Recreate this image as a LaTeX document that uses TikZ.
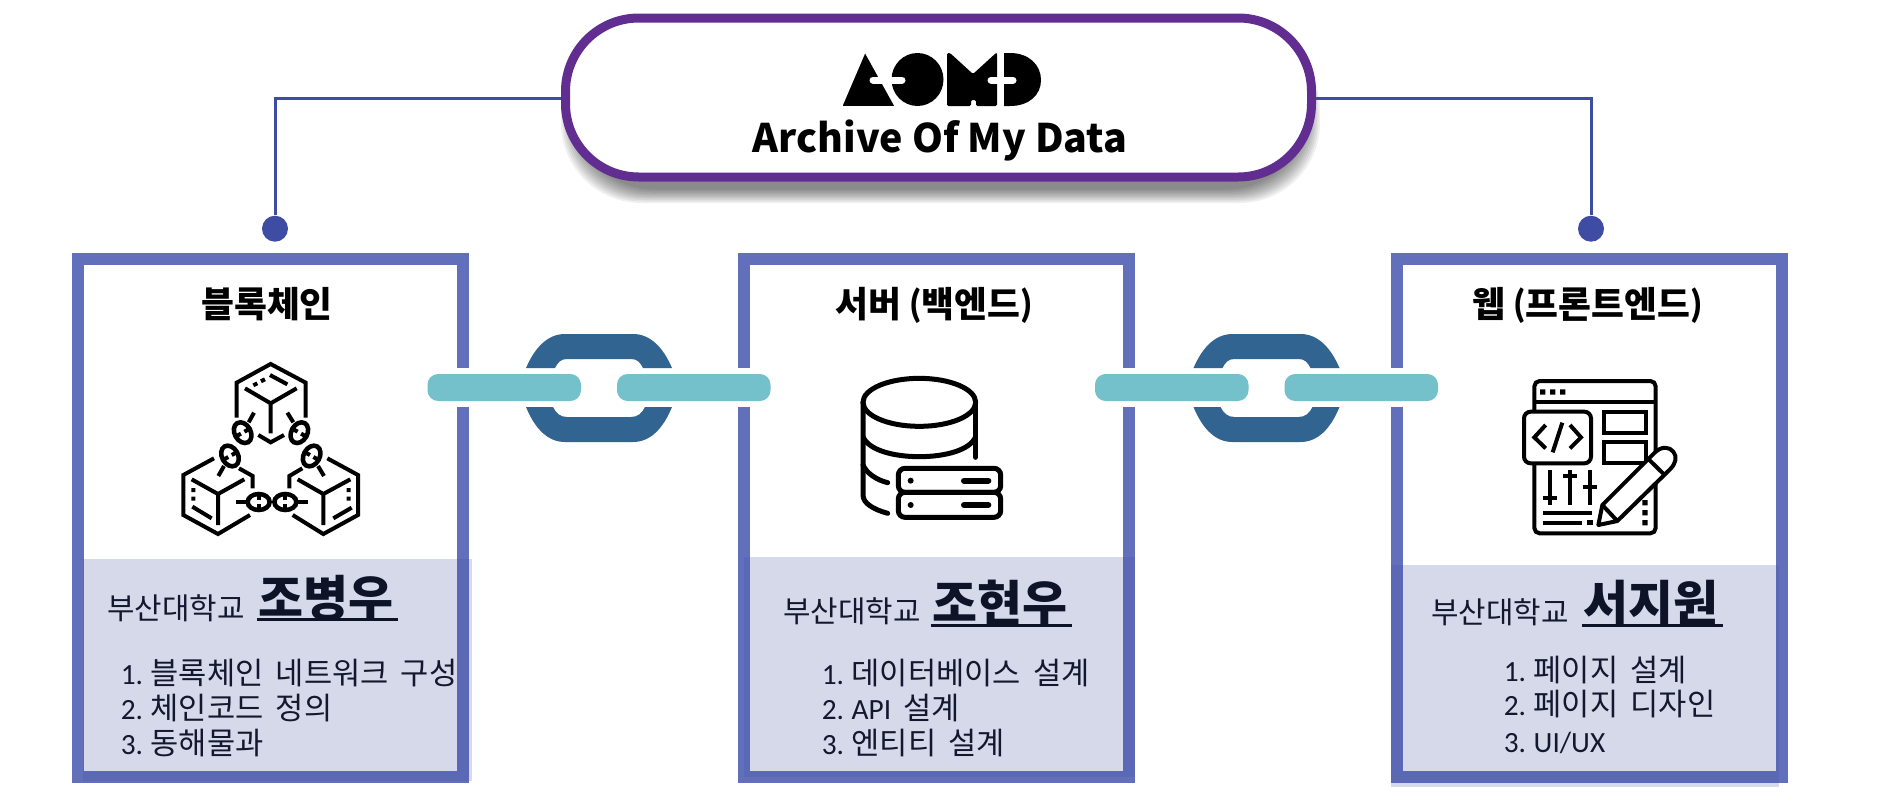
\documentclass[tikz,border=0pt]{standalone}
\usepackage{fontspec}
\setmainfont{Noto Sans CJK KR}
\newfontfamily\latinfont{Carlito}
\newcommand{\listlat}[1]{{\latinfont\fontsize{22}{27}\selectfont #1}}
\newcommand{\headlat}[1]{{\latinfont\fontsize{30}{30}\selectfont #1}}
\newcommand{\listitem}[2]{\fontsize{23}{27}\selectfont\spaceskip=.4em\relax\listlat{#1}\hspace{.25em}#2}
\tikzset{
  cardbox/.style={draw={rgb, 255:red, 98; green, 112; blue, 187}, line width=9pt, minimum width=288.75pt, minimum height=388.5pt, inner sep=0pt},
  cardpanel/.style={fill={rgb, 255:red, 67; green, 80; blue, 161}, fill opacity=0.22},
  titlepill/.style={draw={rgb, 255:red, 97; green, 45; blue, 145}, fill=white, line width=6.75pt, rounded corners=55pt, minimum width=559.5pt, minimum height=119.25pt, inner sep=0pt},
  hookline/.style={draw={rgb, 255:red, 63; green, 76; blue, 163}, line width=2.25pt},
  hookdot/.style={circle, fill={rgb, 255:red, 63; green, 76; blue, 163}, minimum size=19.5pt, inner sep=0pt},
  ringfill/.style={fill={rgb, 255:red, 49; green, 100; blue, 145}},
  barfill/.style={fill={rgb, 255:red, 116; green, 192; blue, 203}, rounded corners=8pt},
  headtext/.style={inner sep=0.75pt, anchor=base, font=\fontsize{26.8}{30}\selectfont\bfseries},
  schooltext/.style={inner sep=0.75pt, anchor=base west, text={rgb, 255:red, 20; green, 24; blue, 46}, font=\fontsize{22.4}{26}\selectfont},
  nametext/.style={inner sep=0.75pt, anchor=base west, text={rgb, 255:red, 14; green, 19; blue, 40}, font=\fontsize{36.7}{40}\selectfont\bfseries},
  nameline/.style={draw={rgb, 255:red, 14; green, 19; blue, 40}, line width=2.25pt},
  listtext/.style={inner sep=0.75pt, anchor=base west, text={rgb, 255:red, 20; green, 24; blue, 46}},
  logotext/.style={inner sep=0.75pt, anchor=base, font=\fontsize{29.5}{34}\selectfont\bfseries},
  iconline/.style={draw=black, line width=3pt},
  chainlink/.pic={
    \draw[iconline, line width=3.4pt] (0,0) ellipse [x radius=33,y radius=24];
    \draw[iconline] (0,-24) -- (0,-6) (0,6) -- (0,24);
  },
}
\begin{document}
\begin{tikzpicture}[x=0.75pt,y=0.75pt,yscale=-1,xscale=1]
\useasboundingbox (0,0) rectangle (1882,804);

%Cards
\node[cardbox] (blockcard) at (270.5,518) {};
\node[cardbox] (servercard) at (936.5,518) {};
\node[cardbox] (webcard) at (1589.5,518) {};
\fill[cardpanel] (83,559) rectangle (472,781);
\fill[cardpanel] (744,557) rectangle (1135,777);
\fill[cardpanel] (1391,565) rectangle (1779,787);

%Shadow of the title
\foreach \g in {0,...,9}
  \fill[black, fill opacity=0.06, rounded corners=60pt] (561+1.5*\g,30+\g) rectangle (1320-1.5*\g,203-1.5*\g);

%Title
\node[titlepill] (titlebox) at (938.5,97.5) {};
\node[hookdot] (leftdot) at (275,228.7) {};
\node[hookdot] (rightdot) at (1591,228.7) {};
\draw[hookline] (titlebox.west |- 0,98.3) -| (leftdot);
\draw[hookline] (titlebox.east |- 0,98.3) -| (rightdot);

%Links
\foreach \lx in {0,667.5} {
  \begin{scope}[shift={(\lx,0)}]
    \fill[ringfill] (526,368) .. controls (535,347) and (548,334) .. (565,334) -- (633,334) .. controls (650,334) and (663,347) .. (672,368) -- (643,368) .. controls (640,362) and (637,359) .. (631,359) -- (567,359) .. controls (561,359) and (558,362) .. (555,368) -- cycle;
    \fill[ringfill] (526,407) .. controls (535,429) and (548,442) .. (565,442) -- (633,442) .. controls (650,442) and (663,429) .. (672,407) -- (645,407) .. controls (642,413) and (638,417) .. (631,417) -- (567,417) .. controls (560,417) and (556,413) .. (553,407) -- cycle;
    \fill[white] (427,368) rectangle (500,407);
    \fill[white] (698,368) rectangle (770.5,407);
    \fill[barfill] (427.5,374) rectangle (581,401);
    \fill[barfill] (617,374) rectangle (770.5,401);
  \end{scope}
}

%Logo
\fill[black] (917.5,79.5) ellipse [x radius=26,y radius=26.5];
\draw[white, line width=1.5pt, fill=black, rounded corners=1.5pt] (865,51) -- (841,107) -- (896,107) -- cycle;
\fill[black, rounded corners=1pt] (947,53) -- (950,53) -- (973,74) -- (996,53) -- (997,53) -- (997,106) -- (976,106) -- (976,100) -- (971,100) -- (971,106) -- (947,106) -- cycle;
\fill[black] (1004,53) -- (1010,53) .. controls (1029,53) and (1041,65) .. (1041,80) .. controls (1041,95) and (1029,106) .. (1010,106) -- (1004,106) -- cycle;
\draw[white, line width=5.25pt, line cap=round] (873,80) -- (902,80);
\draw[white, line width=5.25pt, line cap=round] (991,80) -- (1013,80);
\node[logotext] (logoname) at (940,152) {Archive Of My Data};

%Icon: blockchain
\begin{scope}[shift={(60,240)},x=0.25pt,y=0.25pt]
  \draw[iconline] (530,533) -- (530,428) -- (632,372) -- (737,428) -- (737,533);
  \draw[iconline] (555,445) -- (632,490) -- (710,445) (632,490) -- (632,580);
  \draw[iconline] (595,585) -- (632,607) -- (672,585);
  \draw[iconline] (630,405) -- (682,433) (580,436) -- (592,430) (603,424) -- (615,418);
  %left block
  \draw[iconline] (462,655) -- (370,705) -- (370,825) -- (474,882) -- (570,825);
  \draw[iconline] (537,685) -- (578,708) -- (578,745);
  \draw[iconline] (395,718) -- (474,762) -- (553,718) (474,762) -- (474,855);
  \draw[iconline] (397,800) -- (455,835) (400,744) -- (400,756) (400,770) -- (400,782);
  %right block
  \draw[iconline] (802,655) -- (894,705) -- (894,825) -- (790,882) -- (698,825);
  \draw[iconline] (727,685) -- (688,708) -- (688,745);
  \draw[iconline] (713,718) -- (790,762) -- (871,718) (790,762) -- (790,855);
  \draw[iconline] (875,803) -- (820,835) (866,744) -- (866,756) (866,770) -- (866,782);
  %chains
  \draw[iconline] (582,518) -- (566,547) (492,678) -- (475,708);
  \pic[rotate=119.4] at (548,578) {chainlink};
  \pic[rotate=119.4] at (510,648) {chainlink};
  \draw[iconline] (682,518) -- (700,547) (774,678) -- (792,708);
  \pic[rotate=60.6] at (718,578) {chainlink};
  \pic[rotate=60.6] at (755,648) {chainlink};
  \draw[iconline] (528,786) -- (562,786) (710,786) -- (745,786);
  \pic at (596,786) {chainlink};
  \pic at (676,786) {chainlink};
\end{scope}

%Icon: database
\begin{scope}[shift={(720,240)},x=0.25pt,y=0.25pt]
  \draw[iconline, line width=3.75pt] (598,487) ellipse [x radius=169,y radius=72];
  \draw[iconline, line width=3.75pt, line cap=round] (429,487) -- (429,765) .. controls (429,790) and (460,808) .. (503,820);
  \draw[iconline, line width=3.75pt, line cap=round] (767,487) -- (767,652);
  \draw[iconline, line width=3.75pt] (429,590) .. controls (445,630) and (520,650) .. (598,650) .. controls (676,650) and (751,630) .. (767,590);
  \draw[iconline, line width=3.75pt, line cap=round] (429,675) .. controls (440,700) and (470,720) .. (503,728);
  \draw[iconline, line width=3.75pt, rounded corners=5pt] (535,685) rectangle (842,757);
  \draw[iconline, line width=3.75pt, rounded corners=5pt] (535,757) rectangle (842,832);
  \fill[black] (572,722) circle [radius=9] (572,795) circle [radius=9];
  \draw[iconline, line width=4.5pt, line cap=round] (732,722) -- (805,722) (732,795) -- (805,795);
\end{scope}

%Icon: web page
\begin{scope}[shift={(1380,240)},x=0.25pt,y=0.25pt]
  \draw[iconline, rounded corners=4pt] (463,423) rectangle (827,880);
  \draw[iconline] (463,485) -- (827,485);
  \fill[black] (480,448) rectangle (496,464) (510,448) rectangle (526,464) (540,448) rectangle (556,464);
  \draw[iconline, fill=white, rounded corners=5pt] (432,515) rectangle (633,670);
  \draw[iconline] (497,555) -- (463,592) -- (497,625) (570,555) -- (603,592) -- (570,625) (547,548) -- (518,637);
  \draw[iconline] (672,515) rectangle (798,578) (672,605) rectangle (798,670);
  \draw[iconline] (510,690) -- (510,795) (488,775) -- (532,775);
  \draw[iconline] (570,690) -- (570,795) (548,708) -- (592,708);
  \draw[iconline] (630,690) -- (630,795) (608,742) -- (652,742);
  \draw[iconline] (488,818) -- (637,818) (488,848) -- (607,848);
  \fill[black] (622,840) rectangle (638,856);
  \fill[black] (787,780) rectangle (803,796) (787,810) rectangle (803,826) (787,840) rectangle (803,856);
  \draw[iconline, fill=white, line join=round] (655,855) -- (667,795) -- (825,637) .. controls (845,618) and (868,620) .. (880,635) .. controls (892,650) and (888,670) .. (870,688) -- (712,843) -- cycle;
  \draw[iconline] (667,795) -- (712,843) (808,660) -- (855,706);
\end{scope}

%Text: blockchain
\node[headtext] (blockhead) at (267,317) {블록체인};
\node[schooltext] (blockschool) at (106,619) {부산대학교};
\node[nametext] (blockname) at (257,616) {조병우};
\draw[nameline] (257,619.5) -- (398,619.5);
\node[listtext] (blockitema) at (119.5,684) {\listitem{1.}{블록체인 네트워크 구성}};
\node[listtext] (blockitemb) at (119.5,719) {\listitem{2.}{체인코드 정의}};
\node[listtext] (blockitemc) at (119.5,754) {\listitem{3.}{동해물과}};

%Text: server
\node[headtext] (serverhead) at (934,317) {서버 \headlat{(}백엔드\headlat{)}};
\node[schooltext] (serverschool) at (782,622) {부산대학교};
\node[nametext] (servername) at (931,621) {조현우};
\draw[nameline] (931,625) -- (1072,625);
\node[listtext] (serveritema) at (820.5,684) {\listitem{1.}{데이터베이스 설계}};
\node[listtext] (serveritemb) at (820.5,719) {\listitem{2.}{\listlat{API} 설계}};
\node[listtext] (serveritemc) at (820.5,754) {\listitem{3.}{엔티티 설계}};

%Text: web
\node[headtext] (webhead) at (1587.5,317) {웹 \headlat{(}프론트엔드\headlat{)}};
\node[schooltext] (webschool) at (1430,623) {부산대학교};
\node[nametext] (webname) at (1582,621) {서지원};
\draw[nameline] (1582,625) -- (1723,625);
\node[listtext] (webitema) at (1502.5,681) {\listitem{1.}{페이지 설계}};
\node[listtext] (webitemb) at (1502.5,715) {\listitem{2.}{페이지 디자인}};
\node[listtext] (webitemc) at (1502.5,752) {\listitem{3.}{\listlat{UI/UX}}};
\end{tikzpicture}
\end{document}
